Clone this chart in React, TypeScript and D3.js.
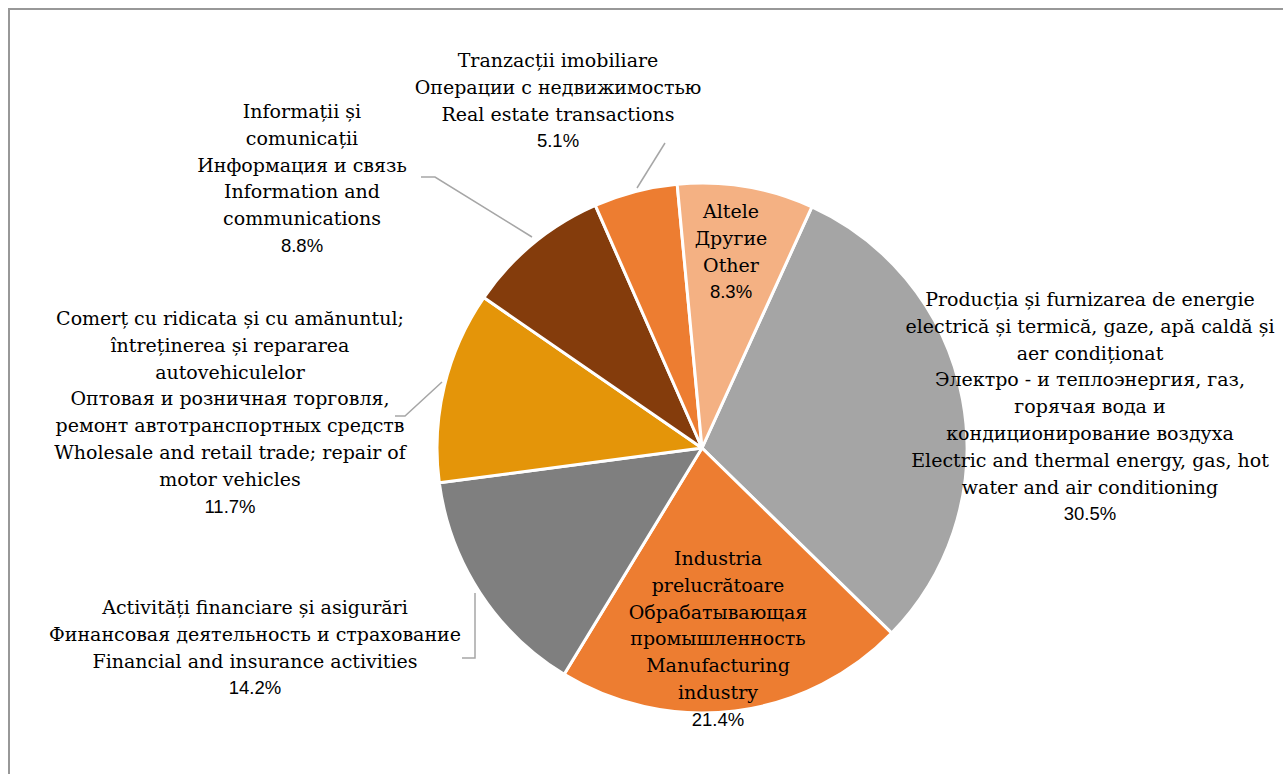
import * as d3 from "d3";

const categories = [
  "Producția și furnizarea de energie electrică și termică",
  "Industria prelucrătoare",
  "Activități financiare și asigurări",
  "Comerț cu ridicata și cu amănuntul",
  "Informații și comunicații",
  "Tranzacții imobiliare",
  "Altele",
];
const shares = [30.5, 21.4, 14.2, 11.7, 8.8, 5.1, 8.3];
const colors = ["#A5A5A5", "#ED7D31", "#7F7F7F", "#E49509", "#843C0C", "#ED7D31", "#F4B183"];
const labelLines = [
  [
    "Producția și furnizarea de energie",
    "electrică și termică, gaze, apă caldă și",
    "aer condiționat",
    "Электро - и теплоэнергия, газ,",
    "горячая вода и",
    "кондиционирование воздуха",
    "Electric and thermal energy, gas, hot",
    "water and air conditioning",
  ],
  ["Industria", "prelucrătoare", "Обрабатывающая", "промышленность", "Manufacturing", "industry"],
  ["Activități financiare și asigurări", "Финансовая деятельность и страхование", "Financial and insurance activities"],
  [
    "Comerț cu ridicata și cu amănuntul;",
    "întreținerea și repararea",
    "autovehiculelor",
    "Оптовая и розничная торговля,",
    "ремонт автотранспортных средств",
    "Wholesale and retail trade; repair of",
    "motor vehicles",
  ],
  ["Informații și", "comunicații", "Информация и связь", "Information and", "communications"],
  ["Tranzacții imobiliare", "Операции с недвижимостью", "Real estate transactions"],
  ["Altele", "Другие", "Other"],
];

// label layout: centre x and first line y of each label block
const labelPos = [
  { x: 1090, y: 301 },
  { x: 718, y: 560 },
  { x: 255, y: 609 },
  { x: 230, y: 320 },
  { x: 302, y: 113 },
  { x: 558, y: 62 },
  { x: 731, y: 213 },
];
const leaders: ([number, number][] | null)[] = [
  null,
  null,
  [[475, 593], [475, 658], [462, 658]],
  [[442, 382], [405, 416], [395, 416]],
  [[532, 237], [435, 177], [421, 177]],
  [[637, 188], [665, 143]],
  null,
];

const W = 1283;
const H = 774;
const cx = 702;
const cy = 448;
const R = 265;
const lineH = 26.8;

export default function App() {
  const pie = d3
    .pie<number>()
    .sort(null)
    .value((d) => d)
    .startAngle((24.5 * Math.PI) / 180)
    .endAngle((24.5 * Math.PI) / 180 + 2 * Math.PI);
  const arcs = pie(shares);
  const arc = d3.arc<d3.PieArcDatum<number>>().innerRadius(0).outerRadius(R);
  const line = d3.line();

  return (
    <svg
      width={W}
      height={H}
      style={{ position: "absolute", left: 0, top: 0, background: "#fff" }}
      fontFamily="'DejaVu Serif', serif"
    >
      <rect x={9} y={9} width={W + 20} height={H + 20} fill="#fff" stroke="#989898" strokeWidth={2} />
      <g transform={`translate(${cx},${cy})`}>
        {arcs.map((a, i) => (
          <path key={categories[i]} d={arc(a) || ""} fill={colors[i]} stroke="#fff" strokeWidth={3} strokeLinejoin="round" />
        ))}
      </g>
      {leaders.map((pts, i) =>
        pts ? <path key={"l" + i} d={line(pts) || ""} fill="none" stroke="#A6A6A6" strokeWidth={1.5} /> : null
      )}
      {labelLines.map((lines, i) => (
        <text
          key={"t" + i}
          x={labelPos[i].x}
          y={labelPos[i].y}
          textAnchor="middle"
          dominantBaseline="middle"
          fontSize={19}
          fill="#000"
        >
          {lines.map((s, j) => (
            <tspan key={j} x={labelPos[i].x} y={labelPos[i].y + j * lineH}>
              {s}
            </tspan>
          ))}
          <tspan
            x={labelPos[i].x}
            y={labelPos[i].y + lines.length * lineH}
            fontFamily="'Liberation Sans', sans-serif"
            fontSize={18.5}
          >
            {shares[i].toFixed(1)}%
          </tspan>
        </text>
      ))}
    </svg>
  );
}
